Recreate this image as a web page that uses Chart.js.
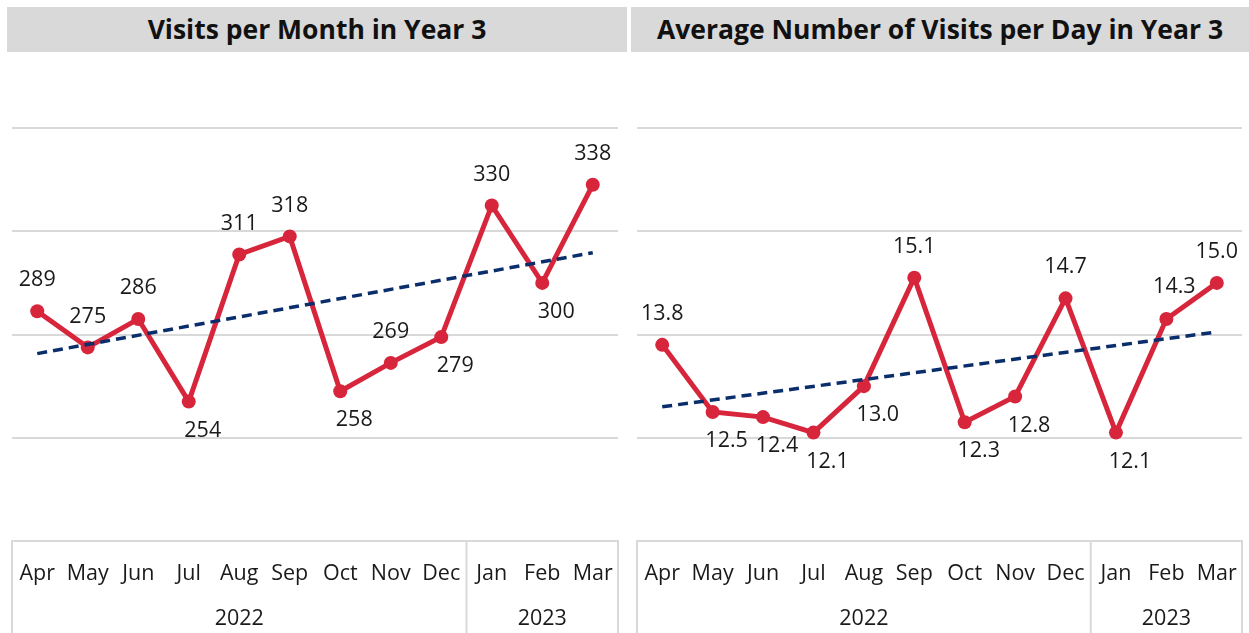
<!DOCTYPE html>
<html>
<head>
<meta charset="utf-8">
<script src="https://cdn.jsdelivr.net/npm/chart.js@4.4.0/dist/chart.umd.min.js"></script>
<style>
  html, body { margin: 0; padding: 0; background: #fff; }
  body { width: 1249px; height: 633px; position: relative; overflow: hidden; font-family: "Open Sans", sans-serif; }
  .hdr { position: absolute; top: 7px; height: 45px; background: #d9d9d9; color: #111;
         font-weight: 700; font-size: 26.5px; line-height: 45px; text-align: center; }
  .panel { position: absolute; top: 0; }
</style>
</head>
<body>
<div class="hdr" style="left:7px;width:620px;">Visits per Month in Year 3</div>
<div class="hdr" style="left:631px;width:618px;">Average Number of Visits per Day in Year 3</div>
<div class="panel" style="left:0;"><canvas id="monthChart" width="627" height="633"></canvas></div>
<div class="panel" style="left:627px;"><canvas id="dayChart" width="622" height="633"></canvas></div>
<script>
// Year 3 visits dashboard
const months = ['Apr', 'May', 'Jun', 'Jul', 'Aug', 'Sep', 'Oct', 'Nov', 'Dec', 'Jan', 'Feb', 'Mar'];
const years = ['2022', '2023'];
const yearSpans = [9, 3];

const visitsPerMonth = [289, 275, 286, 254, 311, 318, 258, 269, 279, 330, 300, 338];
// trend line end points (middle left empty, line spans the gap)
const visitsTrend = [272.6, null, null, null, null, null, null, null, null, null, null, 311.7];
const visitsLabelPos = ['a', 'a', 'a', 'b', 'a', 'a', 'b', 'a', 'b', 'a', 'b', 'a'];

const visitsPerDay = [13.8, 12.5, 12.4, 12.1, 13.0, 15.1, 12.3, 12.8, 14.7, 12.1, 14.3, 15.0];
const dayTrend = [12.6, null, null, null, null, null, null, null, null, null, null, 14.05];
const dayLabelPos = ['a', 'b', 'b', 'b', 'b', 'a', 'b', 'b', 'a', 'b', 'ar', 'a'];

const RED = '#d7263b';
const NAVY = '#0a2d6b';
const GRID = '#d9d9d9';
const FONT = '"Open Sans", sans-serif';

// value labels next to the points
const pointLabels = {
  id: 'pointLabels',
  afterDatasetsDraw(chart, args, opts) {
    const meta = chart.getDatasetMeta(1);
    const ctx = chart.ctx;
    ctx.save();
    ctx.font = '21.5px ' + FONT;
    ctx.fillStyle = '#1a1a1a';
    ctx.textAlign = 'center';
    ctx.textBaseline = 'middle';
    meta.data.forEach((pt, i) => {
      const v = chart.data.datasets[1].data[i];
      const pos = opts.pos[i];
      let dx = 0, dy = -31;
      if (pos === 'b') { dx = 14; dy = 29; }
      if (pos === 'ar') { dx = 8; dy = -32; }
      ctx.fillText(v.toFixed(opts.digits), pt.x + dx, pt.y + dy);
    });
    ctx.restore();
  }
};

// boxed two-level category axis
const boxAxis = {
  id: 'boxAxis',
  afterDraw(chart) {
    const ctx = chart.ctx;
    const area = chart.chartArea;
    const x = chart.scales.x;
    const bottom = chart.height;
    ctx.save();
    ctx.strokeStyle = GRID;
    ctx.lineWidth = 2;
    ctx.beginPath();
    ctx.moveTo(area.left, bottom); ctx.lineTo(area.left, area.bottom);
    ctx.lineTo(area.right, area.bottom); ctx.lineTo(area.right, bottom);
    let idx = 0;
    const half = (x.getPixelForValue(1) - x.getPixelForValue(0)) / 2;
    yearSpans.forEach((span, k) => {
      idx += span;
      if (k < yearSpans.length - 1) {
        const sx = x.getPixelForValue(idx - 1) + half;
        ctx.moveTo(sx, area.bottom); ctx.lineTo(sx, bottom);
      }
    });
    ctx.stroke();

    ctx.font = '21.5px ' + FONT;
    ctx.fillStyle = '#1a1a1a';
    ctx.textAlign = 'center';
    ctx.textBaseline = 'middle';
    months.forEach((m, i) => ctx.fillText(m, x.getPixelForValue(i), area.bottom + 33));
    let start = 0;
    years.forEach((yr, k) => {
      const end = start + yearSpans[k] - 1;
      const cx = (x.getPixelForValue(start) + x.getPixelForValue(end)) / 2;
      ctx.fillText(yr, cx, area.bottom + 78);
      start += yearSpans[k];
    });
    ctx.restore();
  }
};

function makeChart(id, values, trend, yMin, yMax, step, labelPos, digits, pad) {
  return new Chart(document.getElementById(id).getContext('2d'), {
    type: 'line',
    data: {
      labels: months,
      datasets: [
        {
          label: 'Trend',
          data: trend,
          borderColor: NAVY,
          borderWidth: 3.5,
          borderDash: [10, 6],
          pointRadius: 0,
          spanGaps: true,
          order: 0
        },
        {
          label: 'Visits',
          data: values,
          borderColor: RED,
          backgroundColor: RED,
          borderWidth: 5,
          pointRadius: 7,
          pointBackgroundColor: RED,
          pointBorderWidth: 0,
          tension: 0,
          order: 1
        }
      ]
    },
    options: {
      responsive: false,
      animation: false,
      layout: { padding: pad },
      plugins: {
        legend: { display: false },
        tooltip: { enabled: false },
        pointLabels: { pos: labelPos, digits: digits }
      },
      scales: {
        x: { type: 'category', offset: true, display: false },
        y: {
          min: yMin, max: yMax,
          ticks: { display: false, stepSize: step },
          border: { display: false },
          grid: {
            color: ctx => ctx.tick.value === yMin ? 'rgba(0,0,0,0)' : GRID,
            lineWidth: 2,
            drawTicks: false
          },
          afterFit: s => { s.width = 0; }
        }
      }
    },
    plugins: [pointLabels, boxAxis]
  });
}

makeChart('monthChart', visitsPerMonth, visitsTrend, 200, 360, 40, visitsLabelPos, 0,
  { left: 12, right: 9, top: 128, bottom: 92 });
makeChart('dayChart', visitsPerDay, dayTrend, 10, 18, 2, dayLabelPos, 1,
  { left: 10, right: 6, top: 128, bottom: 92 });
</script>
</body>
</html>
